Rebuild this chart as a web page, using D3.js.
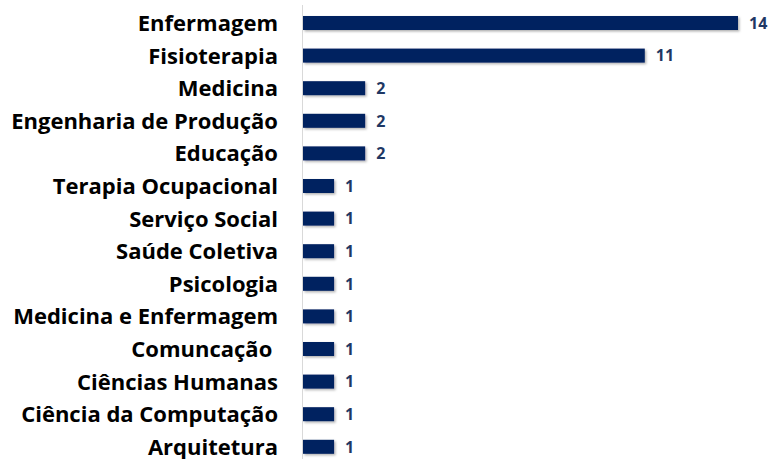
<!DOCTYPE html>
<html>
<head>
<meta charset="utf-8">
<script src="https://cdn.jsdelivr.net/npm/d3@7"></script>
<style>
  body { margin: 0; background: #fff; }
  .cat { font-family: "Open Sans", sans-serif; font-weight: 700; fill: #000; white-space: pre; }
  .val { font-family: "Open Sans", sans-serif; font-weight: 700; fill: #1f3864; }
</style>
</head>
<body>
<script>
const categories = ["Enfermagem", "Fisioterapia", "Medicina", "Engenharia de Produção", "Educação",
    "Terapia Ocupacional", "Serviço Social", "Saúde Coletiva", "Psicologia", "Medicina e Enfermagem",
    "Comuncação ", "Ciências Humanas", "Ciência da Computação", "Arquitetura"];
const values = [14, 11, 2, 2, 2, 1, 1, 1, 1, 1, 1, 1, 1, 1];

const width = 774, height = 459;

const svg = d3.select("body").append("svg")
    .attr("width", width)
    .attr("height", height);

const defs = svg.append("defs");
const shadow = defs.append("filter").attr("id", "shadow")
    .attr("x", "-10%").attr("y", "-30%").attr("width", "130%").attr("height", "180%");
shadow.append("feDropShadow")
    .attr("dx", 1.5).attr("dy", 1.5).attr("stdDeviation", 1.2)
    .attr("flood-color", "#000").attr("flood-opacity", 0.3);

const x = d3.scaleLinear().domain([0, 14]).range([303, 738]);
const y = d3.scaleBand().domain(categories).range([6.7, 463.1])
    .paddingInner(0.57).paddingOuter(0.285);

// axis line
svg.append("line")
    .attr("x1", 302.5).attr("x2", 302.5)
    .attr("y1", 5).attr("y2", height)
    .attr("stroke", "#d9d9d9").attr("stroke-width", 1);

svg.append("g").selectAll("rect")
    .data(values)
    .enter()
    .append("rect")
    .attr("x", x(0))
    .attr("y", (d, i) => y(categories[i]))
    .attr("width", d => x(d) - x(0))
    .attr("height", y.bandwidth())
    .attr("fill", "#002060")
    .attr("filter", "url(#shadow)");

svg.append("g").selectAll("text")
    .data(values)
    .enter()
    .append("text")
    .attr("class", "val")
    .attr("x", d => x(d) + 11)
    .attr("y", (d, i) => y(categories[i]) + y.bandwidth() / 2)
    .attr("dy", "0.36em")
    .style("font-size", "16px")
    .text(d => d);

svg.append("g").selectAll("text")
    .data(categories)
    .enter()
    .append("text")
    .attr("class", "cat")
    .attr("x", 278)
    .attr("y", d => y(d) + y.bandwidth() / 2)
    .attr("dy", "0.36em")
    .attr("text-anchor", "end")
    .style("font-size", "22px")
    .text(d => d);
</script>
</body>
</html>
